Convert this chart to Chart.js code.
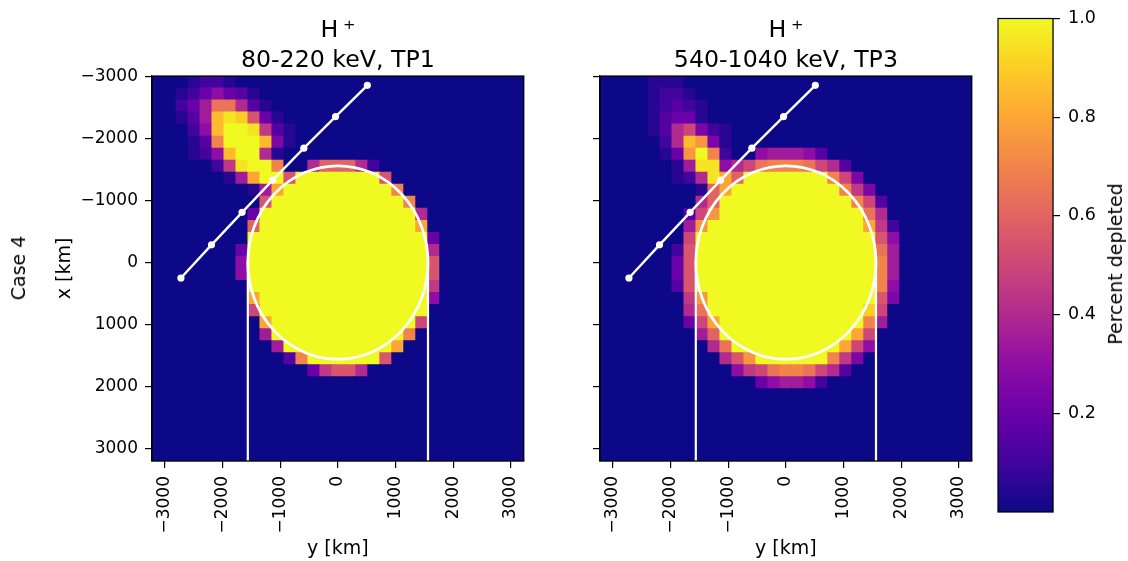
<!DOCTYPE html>
<html>
<head>
<meta charset="utf-8">
<script src="https://cdn.jsdelivr.net/npm/chart.js@4.4.1/dist/chart.umd.min.js"></script>
<style>
  html, body { margin: 0; padding: 0; background: #fff; }
  body { width: 1128px; height: 561px; position: relative; overflow: hidden; font-family: 'DejaVu Sans', sans-serif; }
  canvas { position: absolute; top: 0; }
  .vlabel { position: absolute; transform: translate(-50%, -50%) rotate(-90deg); white-space: nowrap; font-size: 19px; color: #000; }
</style>
</head>
<body>
<canvas id="tp1" width="540" height="561" style="left:0;width:540px;height:561px"></canvas>
<canvas id="tp3" width="540" height="561" style="left:448px;width:540px;height:561px"></canvas>
<canvas id="cbar" width="140" height="561" style="left:988px;width:140px;height:561px"></canvas>
<div class="vlabel" style="left:18px;top:268px">Case 4</div>
<div class="vlabel" style="left:1115px;top:264px">Percent depleted</div>
<script>
// axis ticks (km) and colorbar ticks
const AXIS_TICKS = [-3000, -2000, -1000, 0, 1000, 2000, 3000];
const CBAR_TICKS = [0.2, 0.4, 0.6, 0.8, 1.0];

// grid: column k -> y = k*COL_STEP, row j -> x = j*ROW_STEP
const COL_STEP = 207.7;
const ROW_STEP = 194.2;
const COL_FIRST = -15;
const ROW_FIRST = -15;
const Y_RANGE = [-3221, 3221];
const X_RANGE = [-3010, 3204];

const MOON_RADIUS = 1561;
const WAKE_Y = [-1561, 1561];

// spacecraft track (y, x) in km
const TRAJ_Y = [-2720, -2190, -1660, -1130, -590, -40, 510];
const TRAJ_X = [250, -285, -810, -1330, -1845, -2355, -2860];

const TITLES = [['H\u2009\u207A', '80-220 keV, TP1'], ['H\u2009\u207A', '540-1040 keV, TP3']];

// depletion, one string per row (x from -3000 down), char index in LEVELS / 20
const LEVELS = '0123456789ABCDEFGHIJK';
const DEPLETION_TP1 = [
  '00012 21000 00000 0 00000 00000 00000',
  '00124 64310 00000 0 00000 00000 00000',
  '00247 DD831 00000 0 00000 00000 00000',
  '00137 HJIB4 10000 0 00000 00000 00000',
  '00026 HKKJ9 31000 0 00000 00000 00000',
  '00013 EKKKH 51000 0 00000 00000 00000',
  '00012 6HKK8 10000 0 00000 00000 00000',
  '00000 29JKK E008C C C8200 00000 00000',
  '00000 017GK KBKKK K KKKB0 00000 00000',
  '00000 00017 GKKKK K KKKKE 00000 00000',
  '00000 0000B KKKKK K KKKKK E0000 00000',
  '00000 0004K KKKKK K KKKKK K8000 00000',
  '00000 000CK KKKKK K KKKKK KG000 00000',
  '00000 000KK KKKKK K KKKKK KK400 00000',
  '00000 004KK KKKKK K KKKKK KK800 00000',
  '00000 006KK KKKKK K KKKKK KKB00 00000',
  '00000 006KK KKKKK K KKKKK KKB00 00000',
  '00000 000KK KKKKK K KKKKK KK900 00000',
  '00000 000GK KKKKK K KKKKK KK600 00000',
  '00000 000AK KKKKK K KKKKK KK000 00000',
  '00000 0000G KKKKK K KKKKK KA000 00000',
  '00000 00007 KKKKK K KKKKK E0000 00000',
  '00000 00000 7KKKK K KKKKG 00000 00000',
  '00000 00000 03EKK K KKKB0 00000 00000',
  '00000 00000 00049 B B8000 00000 00000',
  '00000 00000 00000 0 00000 00000 00000',
  '00000 00000 00000 0 00000 00000 00000',
  '00000 00000 00000 0 00000 00000 00000',
  '00000 00000 00000 0 00000 00000 00000',
  '00000 00000 00000 0 00000 00000 00000',
  '00000 00000 00000 0 00000 00000 00000',
  '00000 00000 00000 0 00000 00000 00000'
];
const DEPLETION_TP3 = [
  '00001 11000 00000 0 00000 00000 00000',
  '00001 22100 00000 0 00000 00000 00000',
  '00001 23210 00000 0 00000 00000 00000',
  '00001 34410 00000 0 00000 00000 00000',
  '00001 38A52 10000 0 00000 00000 00000',
  '00000 28HF5 10000 0 00000 00000 00000',
  '00000 14FKE 20067 7 76300 00000 00000',
  '00000 017JJ 68ADE E EDA83 00000 00000',
  '00000 0128J GCKKK K KKKEA 50000 00000',
  '00000 0001C GKKKK K KKKKE 95000 00000',
  '00000 0008C KKKKK K KKKKK EA300 00000',
  '00000 003AF KKKKK K KKKKK KD800 00000',
  '00000 007FK KKKKK K KKKKK KG920 00000',
  '00000 00AKK KKKKK K KKKKK KKB60 00000',
  '00000 02BKK KKKKK K KKKKK KKD70 00000',
  '00000 04BKK KKKKK K KKKKK KKE70 00000',
  '00000 04BKK KKKKK K KKKKK KKE70 00000',
  '00000 03BKK KKKKK K KKKKK KKE60 00000',
  '00000 009FK KKKKK K KKKKK KKB50 00000',
  '00000 008DK KKKKK K KKKKK KIA00 00000',
  '00000 004AG KKKKK K KKKKK KE700 00000',
  '00000 0007C KKKKK K KKKKK GA000 00000',
  '00000 00008 DKKKK K KKKKG A6000 00000',
  '00000 00000 8BFKK K KKKE9 50000 00000',
  '00000 00000 069AD E EDA83 00000 00000',
  '00000 00000 00046 7 76200 00000 00000',
  '00000 00000 00000 0 00000 00000 00000',
  '00000 00000 00000 0 00000 00000 00000',
  '00000 00000 00000 0 00000 00000 00000',
  '00000 00000 00000 0 00000 00000 00000',
  '00000 00000 00000 0 00000 00000 00000',
  '00000 00000 00000 0 00000 00000 00000'
];

// plasma colormap stops
const PLASMA = ['#0d0887', '#41049d', '#6a00a8', '#8f0da4', '#b12a90', '#cc4778',
                '#e16462', '#f2844b', '#fca636', '#fcce25', '#f0f921'];

const FONT = 'DejaVu Sans';
Chart.defaults.font.family = FONT;
Chart.defaults.color = '#000';

function hexRgb(h) {
    return [1, 3, 5].map(i => parseInt(h.slice(i, i + 2), 16));
}

function plasma(v) {
    const t = Math.max(0, Math.min(1, v)) * (PLASMA.length - 1);
    const i = Math.min(Math.floor(t), PLASMA.length - 2);
    const f = t - i;
    const a = hexRgb(PLASMA[i]), b = hexRgb(PLASMA[i + 1]);
    const c = a.map((x, n) => Math.round(x + (b[n] - x) * f));
    return `rgb(${c[0]},${c[1]},${c[2]})`;
}

function cells(rows) {
    const pts = [];
    rows.forEach((row, r) => {
        row.replace(/ /g, '').split('').forEach((ch, c) => {
            pts.push({
                x: (c + COL_FIRST) * COL_STEP,
                y: (r + ROW_FIRST) * ROW_STEP,
                v: LEVELS.indexOf(ch) / 20
            });
        });
    });
    return pts;
}

function kmLabel(v) {
    return v < 0 ? '\u2212' + Math.abs(v) : String(v);
}

function cellRadius(ctx) {
    const xs = ctx.chart.scales.x, ys = ctx.chart.scales.y;
    const w = Math.abs(xs.getPixelForValue(COL_STEP) - xs.getPixelForValue(0));
    const h = Math.abs(ys.getPixelForValue(ROW_STEP) - ys.getPixelForValue(0));
    return (Math.max(w, h) + 1) / Math.SQRT2;
}

const framePlugin = {
    id: 'frame',
    beforeDatasetsDraw(chart) {
        const { ctx, chartArea: a } = chart;
        if (chart.config.type !== 'scatter') return;
        ctx.save();
        ctx.fillStyle = PLASMA[0];
        ctx.fillRect(a.left, a.top, a.right - a.left, a.bottom - a.top);
        ctx.restore();
    },
    afterDraw(chart) {
        const { ctx, chartArea: a } = chart;
        ctx.save();
        ctx.strokeStyle = '#000';
        ctx.lineWidth = 1.2;
        ctx.strokeRect(a.left, a.top, a.right - a.left, a.bottom - a.top);
        ctx.restore();
    }
};

const moonPlugin = {
    id: 'moon',
    afterDatasetsDraw(chart) {
        const { ctx, chartArea: a } = chart;
        const xs = chart.scales.x, ys = chart.scales.y;
        const cx = xs.getPixelForValue(0), cy = ys.getPixelForValue(0);
        const rx = Math.abs(xs.getPixelForValue(MOON_RADIUS) - cx);
        const ry = Math.abs(ys.getPixelForValue(MOON_RADIUS) - cy);
        ctx.save();
        ctx.beginPath();
        ctx.rect(a.left, a.top, a.right - a.left, a.bottom - a.top);
        ctx.clip();
        ctx.beginPath();
        ctx.ellipse(cx, cy, rx, ry, 0, 0, Math.PI * 2);
        ctx.strokeStyle = '#fff';
        ctx.lineWidth = 2.8;
        ctx.stroke();
        ctx.restore();
    }
};

const tickSetup = s => { s.ticks = AXIS_TICKS.map(v => ({ value: v })); };

function panelChart(id, rows, title, showYLabels) {
    const wakes = WAKE_Y.map(y => ({
        data: [{ x: y, y: 0 }, { x: y, y: X_RANGE[1] }],
        showLine: true,
        borderColor: '#fff',
        borderWidth: 2.2,
        pointRadius: 0,
        order: 2
    }));
    return new Chart(document.getElementById(id), {
        type: 'scatter',
        data: {
            datasets: [
                {
                    data: TRAJ_Y.map((y, i) => ({ x: y, y: TRAJ_X[i] })),
                    showLine: true,
                    borderColor: '#fff',
                    borderWidth: 2.4,
                    pointRadius: 3.6,
                    pointBackgroundColor: '#fff',
                    pointBorderWidth: 0,
                    order: 1
                },
                ...wakes,
                {
                    data: cells(rows),
                    pointStyle: 'rect',
                    pointRadius: cellRadius,
                    borderWidth: 0,
                    backgroundColor: ctx => plasma(ctx.raw ? ctx.raw.v : 0),
                    order: 5
                }
            ]
        },
        options: {
            responsive: false,
            animation: false,
            events: [],
            layout: { padding: { top: 0, right: 14, bottom: 0, left: 0 } },
            plugins: {
                legend: { display: false },
                tooltip: { enabled: false },
                title: {
                    display: true,
                    fullSize: false,
                    text: title,
                    color: '#000',
                    font: { family: FONT, size: 23.7, weight: 'normal', lineHeight: 30 / 23.7 },
                    padding: { top: 16, bottom: 0 }
                }
            },
            scales: {
                x: {
                    type: 'linear',
                    min: Y_RANGE[0],
                    max: Y_RANGE[1],
                    afterBuildTicks: tickSetup,
                    afterFit: s => { s.height = 100; },
                    ticks: { minRotation: 90, maxRotation: 90, padding: 8, color: '#000',
                             font: { size: 17 }, callback: kmLabel },
                    grid: { drawOnChartArea: false, drawTicks: true, tickLength: 7, color: '#000', lineWidth: 1.2 },
                    border: { display: true, color: '#000', width: 1.2 },
                    title: { display: true, text: 'y [km]', color: '#000', font: { size: 19 },
                             padding: { top: 0, bottom: 1 } }
                },
                y: {
                    type: 'linear',
                    reverse: true,
                    min: X_RANGE[0],
                    max: X_RANGE[1],
                    afterBuildTicks: tickSetup,
                    afterFit: s => { s.width = 152; },
                    ticks: { padding: 7, color: '#000', font: { size: 17 },
                             callback: v => showYLabels ? kmLabel(v) : '' },
                    grid: { drawOnChartArea: false, drawTicks: true, tickLength: 7, color: '#000', lineWidth: 1.2 },
                    border: { display: true, color: '#000', width: 1.2 },
                    title: { display: showYLabels, text: 'x [km]', color: '#000', font: { size: 19 },
                             padding: { top: 54, bottom: 0 } }
                }
            }
        },
        plugins: [framePlugin, moonPlugin]
    });
}

panelChart('tp1', DEPLETION_TP1, TITLES[0], true);
panelChart('tp3', DEPLETION_TP3, TITLES[1], false);

// colorbar
new Chart(document.getElementById('cbar'), {
    type: 'bar',
    data: {
        labels: [''],
        datasets: [{
            data: [1],
            borderWidth: 0,
            barPercentage: 1,
            categoryPercentage: 1,
            backgroundColor: ctx => {
                const a = ctx.chart.chartArea;
                if (!a) return PLASMA[0];
                const g = ctx.chart.ctx.createLinearGradient(0, a.bottom, 0, a.top);
                PLASMA.forEach((c, i) => g.addColorStop(i / (PLASMA.length - 1), c));
                return g;
            }
        }]
    },
    options: {
        responsive: false,
        animation: false,
        events: [],
        layout: { padding: { top: 16, right: 0, bottom: 49, left: 10 } },
        plugins: { legend: { display: false }, tooltip: { enabled: false } },
        scales: {
            x: { display: false },
            y: {
                position: 'right',
                min: 0,
                max: 1,
                afterBuildTicks: s => { s.ticks = CBAR_TICKS.map(v => ({ value: v })); },
                afterFit: s => { s.width = 75; },
                ticks: { padding: 8, color: '#000', font: { size: 17.5 }, callback: v => v.toFixed(1) },
                grid: { drawOnChartArea: false, drawTicks: true, tickLength: 7, color: '#000', lineWidth: 1.2 },
                border: { display: true, color: '#000', width: 1.2 }
            }
        }
    },
    plugins: [framePlugin]
});
</script>
</body>
</html>
